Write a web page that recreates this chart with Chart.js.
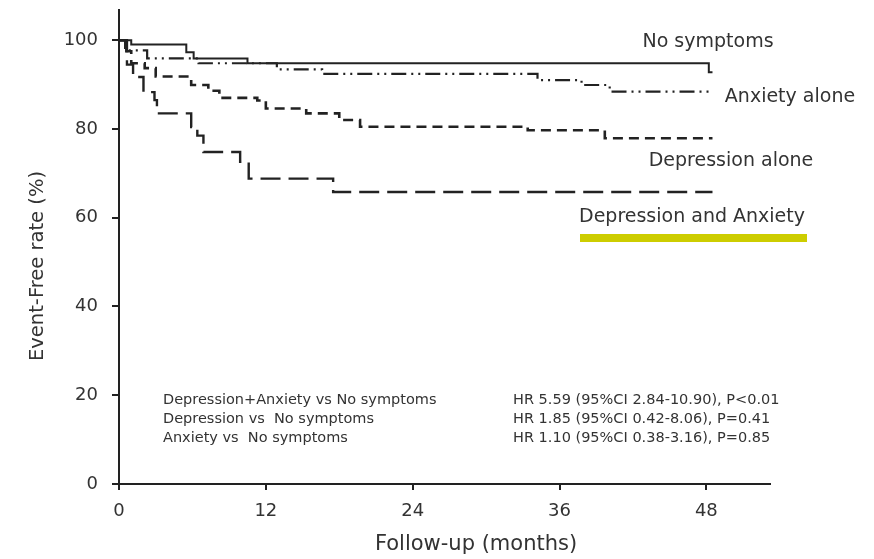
<!DOCTYPE html>
<html>
<head>
<meta charset="utf-8">
<script src="https://cdn.jsdelivr.net/npm/chart.js@4.4.1/dist/chart.umd.min.js"></script>
<style>
  html, body { margin: 0; padding: 0; background: #fff; }
</style>
</head>
<body>
<canvas id="km" width="874" height="559"></canvas>
<script>
// Kaplan-Meier: event-free rate (%) against follow-up (months)
const xTicks = [0, 12, 24, 36, 48];
const yTicks = [0, 20, 40, 60, 80, 100];

const seriesNames = ['No symptoms', 'Anxiety alone', 'Depression alone', 'Depression and Anxiety'];

const noSymMonths = [0, 1.0, 5.5, 6.1, 10.5, 48.2, 48.5];
const noSymRate   = [100, 99.0, 97.3, 95.9, 94.8, 92.8, 92.8];

const anxMonths = [0, 0.5, 2.3, 6.5, 12.9, 16.6, 34.2, 37.8, 40.1, 48.5];
const anxRate   = [100, 97.7, 95.9, 94.8, 93.4, 92.4, 91.0, 89.9, 88.4, 88.4];

const depMonths = [0, 0.6, 1.0, 2.1, 3.0, 5.9, 7.3, 8.2, 11.3, 12.0, 15.3, 18.0, 19.7, 33.4, 39.7, 48.5];
const depRate   = [100, 97.5, 94.8, 93.7, 91.8, 89.9, 88.6, 87.0, 86.4, 84.6, 83.5, 82.0, 80.5, 79.7, 77.9, 77.9];

const bothMonths = [0, 0.65, 1.15, 2.0, 2.9, 3.1, 5.9, 6.4, 6.9, 9.9, 10.6, 17.5, 48.5];
const bothRate   = [100, 94.5, 91.7, 88.3, 86.5, 83.5, 80.4, 78.5, 74.8, 72.6, 68.8, 65.8, 65.8];

const comparisons = ['Depression+Anxiety vs No symptoms', 'Depression vs  No symptoms', 'Anxiety vs  No symptoms'];
const hazardRatios = ['HR 5.59 (95%CI 2.84-10.90), P<0.01', 'HR 1.85 (95%CI 0.42-8.06), P=0.41', 'HR 1.10 (95%CI 0.38-3.16), P=0.85'];

const xTitle = 'Follow-up (months)';
const yTitle = 'Event-Free rate (%)';

const FONT = '"DejaVu Sans", "Liberation Sans", Arial, sans-serif';
const INK = '#222';
const TEXT = '#333';

function toPoints(months, rate) {
  return months.map((m, i) => ({ x: m, y: rate[i] }));
}

function curve(label, months, rate, dash, width) {
  return {
    label: label,
    data: toPoints(months, rate),
    stepped: 'before',
    borderColor: INK,
    borderWidth: width,
    borderDash: dash,
    pointRadius: 0,
    fill: false,
    clip: false
  };
}

// Text, curve labels and the highlight bar drawn on top of the chart
const kmText = {
  id: 'kmText',
  afterDraw(chart) {
    const ctx = chart.ctx;
    ctx.save();
    ctx.fillStyle = TEXT;
    ctx.textBaseline = 'middle';

    ctx.font = '21px ' + FONT;
    ctx.textAlign = 'center';
    ctx.fillText(xTitle, 476, 545);

    ctx.save();
    ctx.translate(38, 266);
    ctx.rotate(-Math.PI / 2);
    ctx.font = '19.5px ' + FONT;
    ctx.fillText(yTitle, 0, 0);
    ctx.restore();

    const labelPos = [[708, 42], [790, 97], [731, 161], [692, 217]];
    ctx.font = '19px ' + FONT;
    seriesNames.forEach((name, i) => {
      ctx.fillText(name, labelPos[i][0], labelPos[i][1]);
    });

    ctx.fillStyle = '#cdcd00';
    ctx.fillRect(580, 234, 227, 8);

    ctx.fillStyle = TEXT;
    ctx.font = '14.5px ' + FONT;
    ctx.textAlign = 'left';
    comparisons.forEach((c, i) => {
      ctx.fillText(c, 163, 400 + i * 19);
      ctx.fillText(hazardRatios[i], 513, 400 + i * 19);
    });
    ctx.restore();
  }
};

new Chart(document.getElementById('km'), {
  type: 'line',
  data: {
    datasets: [
      curve(seriesNames[0], noSymMonths, noSymRate, [], 2),
      curve(seriesNames[1], anxMonths, anxRate, [15, 5, 2, 5, 2, 5], 2.2),
      curve(seriesNames[2], depMonths, depRate, [10, 6], 2.6),
      curve(seriesNames[3], bothMonths, bothRate, [20, 8], 2.4)
    ]
  },
  options: {
    responsive: false,
    animation: false,
    devicePixelRatio: 1,
    layout: { padding: { top: 10, right: 104, bottom: 0, left: 0 } },
    plugins: {
      legend: { display: false },
      tooltip: { enabled: false }
    },
    scales: {
      x: {
        type: 'linear',
        min: 0,
        max: 53.2,
        afterBuildTicks: (scale) => { scale.ticks = xTicks.map(v => ({ value: v })); },
        afterFit: (scale) => {
          scale.height = 75;
          scale.paddingLeft = 0;
          scale.paddingRight = 0;
        },
        border: { display: true, color: INK, width: 2 },
        grid: { display: true, drawOnChartArea: false, drawTicks: true, tickLength: 6, color: INK, lineWidth: 2 },
        ticks: { color: TEXT, font: { family: FONT, size: 18 }, padding: 11, maxRotation: 0 }
      },
      y: {
        type: 'linear',
        min: 0,
        max: 106.8,
        afterBuildTicks: (scale) => { scale.ticks = yTicks.map(v => ({ value: v })); },
        afterFit: (scale) => {
          scale.width = 119;
          scale.paddingTop = 0;
          scale.paddingBottom = 0;
        },
        border: { display: true, color: INK, width: 2 },
        grid: { display: true, drawOnChartArea: false, drawTicks: true, tickLength: 7, color: INK, lineWidth: 2 },
        ticks: { color: TEXT, font: { family: FONT, size: 18 }, padding: 14 }
      }
    }
  },
  plugins: [kmText]
});
</script>
</body>
</html>
